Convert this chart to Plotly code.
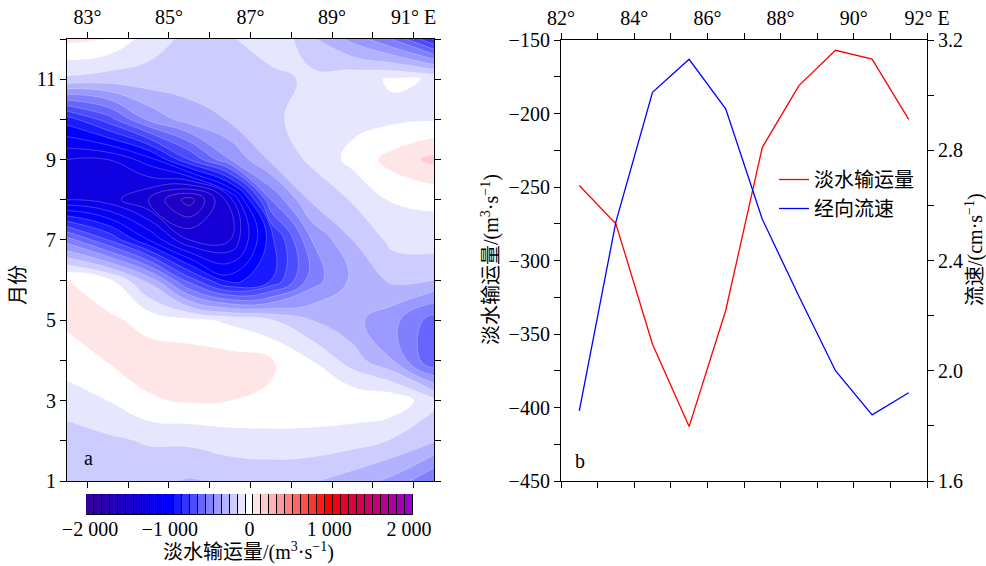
import plotly.graph_objects as go

# ---------------- data ----------------
map_lons = [82.5, 83.5, 84.5, 85.5, 86.5, 87.5, 88.5, 89.5, 90.5, 91.5]
months = [1, 2, 3, 4, 5, 6, 7, 8, 9, 10, 11, 12]
# freshwater transport (m3/s), rows = months 1..12, cols = map_lons
m01 = [-230, -220, -220, -260, -230, -220, -240, -300, -380, -550]
m02 = [-200, -170, -140, -130, -100, -90, -90, -110, -160, -240]
m03 = [-100, -50, 40, 60, 50, 40, 30, 30, 20, -120]
m04 = [0, 55, 90, 100, 90, 60, -50, -200, -350, -650]
m05 = [70, 70, 20, -20, -70, -140, -250, -320, -420, -600]
m06 = [60, -20, -280, -700, -1000, -850, -500, -330, -230, -250]
m07 = [-500, -750, -1050, -1350, -1350, -900, -450, -250, -120, -100]
m08 = [-1250, -1300, -1450, -1700, -1300, -550, -230, -140, -40, -30]
m09 = [-1250, -1250, -1100, -750, -450, -230, -130, -20, 90, 180]
m10 = [-900, -700, -430, -300, -240, -170, -110, -80, -70, -60]
m11 = [-170, -200, -190, -200, -210, -200, -120, -80, -40, -55]
m12 = [80, 50, -100, -180, -170, -50, -230, -380, -560, -850]
transport_grid = [m01, m02, m03, m04, m05, m06, m07, m08, m09, m10, m11, m12]

line_lons = [82.5, 83.5, 84.5, 85.5, 86.5, 87.5, 88.5, 89.5, 90.5, 91.5]
transport_mean = [-249, -275, -357, -413, -334, -223, -181, -157, -163, -204]
velocity = [1.854, 2.54, 3.01, 3.13, 2.95, 2.55, 2.27, 2.0, 1.84, 1.92]

level_min, level_max, level_step = -2000, 2000, 100
cb_tickvals = [-2000, -1000, 0, 1000, 2000]
cb_ticktext = ["\u22122 000", "\u22121 000", "0", "1 000", "2 000"]

# ---------------- colours ----------------
def lerp(c1, c2, t):
    return tuple(round(a + (b - a) * t) for a, b in zip(c1, c2))

def level_color(v):
    dark, blue, white, red, purple = (51, 0, 153), (0, 0, 255), (255, 255, 255), (255, 0, 0), (153, 0, 204)
    if v <= -1000:
        c = lerp(dark, blue, (v + 2000) / 1000)
    elif v <= 0:
        c = lerp(blue, white, (v + 1000) / 1000)
    elif v <= 1000:
        c = lerp(white, red, v / 1000)
    else:
        c = lerp(red, purple, (v - 1000) / 1000)
    return "rgb(%d,%d,%d)" % c

centers = list(range(level_min, level_max + 1, level_step))
n = len(centers)
colors = [level_color(v) for v in centers]
colorscale = []
for k, col in enumerate(colors):
    lo = max(0.0, (k - 0.5) / (n - 1))
    hi = min(1.0, (k + 0.5) / (n - 1))
    colorscale.append([lo, col])
    colorscale.append([hi, col])

SERIF = "Liberation Serif, Times New Roman, Noto Sans CJK SC, serif"
FS = 20

fig = go.Figure()

fig.add_trace(go.Contour(
    x=map_lons, y=months, z=transport_grid,
    colorscale=colorscale, showscale=False,
    contours=dict(start=level_min + level_step / 2, end=level_max - level_step / 2,
                  size=level_step, coloring="fill"),
    line=dict(color="rgba(255,255,255,0.4)", width=0.6, smoothing=1.3),
    xaxis="x", yaxis="y", hoverinfo="skip",
))

# colour bar as bars
fig.add_trace(go.Bar(
    x=centers, y=[1] * n, width=[level_step] * n,
    marker=dict(color=colors, line=dict(color="black", width=1)),
    xaxis="x3", yaxis="y3", showlegend=False, hoverinfo="skip",
))

fig.add_trace(go.Scatter(
    x=line_lons, y=transport_mean, mode="lines", name="淡水输运量",
    line=dict(color="#ff0000", width=1.3), xaxis="x2", yaxis="y2",
))
fig.add_trace(go.Scatter(
    x=line_lons, y=velocity, mode="lines", name="经向流速",
    line=dict(color="#0000ff", width=1.3), xaxis="x2", yaxis="y4",
))

W, H = 986, 566
def px(x0, x1):
    return [x0 / W, x1 / W]
def py(y_top, y_bot):
    return [(H - y_bot) / H, (H - y_top) / H]

axis_common = dict(showgrid=False, zeroline=False, linecolor="black", linewidth=1.2,
                   ticks="outside", ticklen=6, tickwidth=1.2, tickcolor="black", automargin=False,
                   tickfont=dict(family=SERIF, size=FS, color="black"))

deg_vals_a = list(range(83, 92))
deg_text_a = [("%d°" % d if d % 2 == 1 else "") for d in deg_vals_a]
deg_text_a[-1] = "91° E"
month_text = [str(m) if m % 2 == 1 else "" for m in months]

deg_vals_b = list(range(82, 93))
deg_text_b = [("%d°" % d if d % 2 == 0 else "") for d in deg_vals_b]
deg_text_b[-1] = "92° E"

tv_left = list(range(-450, -149, 25))
tt_left = [("\u2212%d" % abs(v) if v % 50 == 0 else "") for v in tv_left]
tv_right = [1.6, 1.8, 2.0, 2.2, 2.4, 2.6, 2.8, 3.0, 3.2]
tt_right = ["1.6", "", "2.0", "", "2.4", "", "2.8", "", "3.2"]

fig.update_layout(
    width=W, height=H, margin=dict(l=0, r=0, t=0, b=0, autoexpand=False),
    paper_bgcolor="white", plot_bgcolor="white",
    font=dict(family=SERIF, size=FS, color="black"),
    xaxis=dict(axis_common, domain=px(67, 434), range=[82.5, 91.5], side="top", mirror="ticks",
               tickvals=deg_vals_a, ticktext=deg_text_a, anchor="y"),
    yaxis=dict(axis_common, domain=py(39, 481), range=[1, 12], mirror="ticks",
               tickvals=months, ticktext=month_text, anchor="x"),
    xaxis2=dict(axis_common, domain=px(561, 927), range=[82, 92], side="top", mirror="ticks",
                tickvals=deg_vals_b, ticktext=deg_text_b, anchor="y2"),
    yaxis2=dict(axis_common, domain=py(40, 481), range=[-450, -150],
                tickvals=tv_left, ticktext=tt_left, anchor="x2"),
    yaxis4=dict(axis_common, range=[1.6, 3.2], overlaying="y2", side="right",
                tickvals=tv_right, ticktext=tt_right, anchor="x2"),
    xaxis3=dict(domain=px(86, 413), range=[-2050, 2050], anchor="y3", showgrid=False, zeroline=False,
                showline=False, ticks="", tickvals=cb_tickvals, ticktext=cb_ticktext, automargin=False,
                tickfont=dict(family=SERIF, size=FS, color="black")),
    yaxis3=dict(domain=py(494, 515), range=[0, 1], anchor="x3", visible=False, automargin=False),
    bargap=0,
    showlegend=True,
    legend=dict(x=774 / W, y=1 - 160 / H, xanchor="left", yanchor="top",
                bgcolor="rgba(0,0,0,0)", font=dict(family=SERIF, size=FS), tracegroupgap=0),
)

annos = [
    dict(text="月份", x=18 / W, y=1 - 285 / H, textangle=-90),
    dict(text="a", x=88 / W, y=1 - 458 / H),
    dict(text="b", x=580 / W, y=1 - 461 / H),
    dict(text="淡水输运量/(m<sup>3</sup>·s<sup>−1</sup>)", x=249 / W, y=1 - 551 / H),
    dict(text="淡水输运量/(m<sup>3</sup>·s<sup>−1</sup>)", x=491 / W, y=1 - 260 / H, textangle=-90),
    dict(text="流速/(cm·s<sup>−1</sup>)", x=974 / W, y=1 - 250 / H, textangle=-90),
]
fig.update_layout(annotations=[dict(a, xref="paper", yref="paper", showarrow=False,
                                     xanchor="center", yanchor="middle",
                                     font=dict(family=SERIF, size=FS, color="black")) for a in annos])

fig.write_html("out.html", config={"displayModeBar": False},
               post_script="document.body.style.margin='0px';document.body.style.overflow='hidden';")
